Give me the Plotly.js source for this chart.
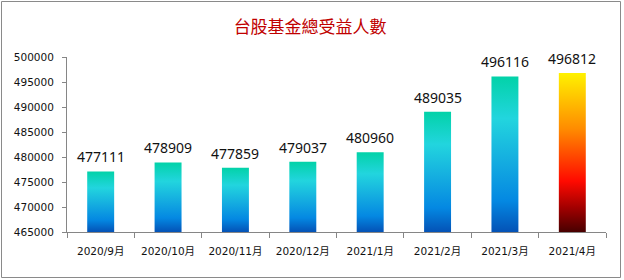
<!DOCTYPE html>
<html><head><meta charset="utf-8">
<script src="https://cdn.plot.ly/plotly-3.0.1.min.js"></script>
<style>body{margin:0;padding:0;background:#fff}#c{width:624px;height:280px}</style>
</head><body><div id="c"></div>
<script>
const categories = ["2020/9月","2020/10月","2020/11月","2020/12月","2021/1月","2021/2月","2021/3月","2021/4月"];
const values = [477111, 478909, 477859, 479037, 480960, 489035, 496116, 496812];
const chartTitle = "台股基金總受益人數";

const L = 67, R = 18, T = 57, B = 48, W = 624, H = 280;
const pw = W - L - R, ph = H - T - B;

const trace = {
  type: 'bar', x: categories, y: values,
  marker: {color: values.map((v,i)=> i === values.length-1 ? '#ff5000' : '#1ab0e0'), line: {width: 0}},
  width: 0.4, hoverinfo: 'none'
};
const labelFont = {family: 'Noto Sans, Open Sans, sans-serif', size: 14, color: '#111'};
const annotations = categories.map((c, i) => ({
  x: c, y: values[i], xref: 'x', yref: 'y', text: String(values[i]), showarrow: false,
  yanchor: 'bottom', yshift: 3, font: labelFont
}));
const tickFont = {family: 'DejaVu Sans, Noto Sans CJK TC, sans-serif', size: 10.5, color: '#111'};
const layout = {
  width: W, height: H, margin: {l: L, r: R, t: T, b: B},
  paper_bgcolor: '#fff', plot_bgcolor: '#fff', showlegend: false,
  title: {text: chartTitle, font: {family: 'Noto Sans CJK TC, sans-serif', size: 17, color: '#C00000'},
          x: 0.497, xanchor: 'center', y: 1 - 27/280, yanchor: 'middle', yref: 'container'},
  xaxis: {type: 'category', showline: true, linecolor: '#868686', linewidth: 1,
          ticks: 'outside', tickson: 'boundaries', ticklen: 5, tickcolor: '#868686',
          tickfont: tickFont, ticklabelstandoff: 9, showgrid: false, zeroline: false, fixedrange: true},
  yaxis: {range: [465000, 500000], dtick: 5000, tick0: 465000, showline: true, linecolor: '#868686',
          ticks: 'outside', ticklen: 4, tickcolor: '#868686', tickfont: tickFont,
          showgrid: false, zeroline: false, tickformat: 'd', ticklabelstandoff: 6, fixedrange: true},
  bargap: 0.6,
  annotations: annotations,
  shapes: [{type: 'rect', xref: 'paper', yref: 'paper',
            x0: (1.5 - L)/pw, x1: (620.5 - L)/pw, y0: (T + ph - 277.5)/ph, y1: (T + ph - 1.5)/ph,
            line: {color: '#8a8a8a', width: 1}, fillcolor: 'rgba(0,0,0,0)', layer: 'below'}]
};
Plotly.newPlot('c', [trace], layout, {staticPlot: true, displayModeBar: false}).then(gd => {
  const svg = gd.querySelector('svg.main-svg');
  const ns = 'http://www.w3.org/2000/svg';
  let defs = svg.querySelector('defs');
  if (!defs) { defs = document.createElementNS(ns, 'defs'); svg.insertBefore(defs, svg.firstChild); }
  const ya = gd._fullLayout.yaxis;
  const yBottom = ya._length;
  function grad(id, yTop, stops) {
    const g = document.createElementNS(ns, 'linearGradient');
    g.setAttribute('id', id); g.setAttribute('gradientUnits', 'userSpaceOnUse');
    g.setAttribute('x1', '0'); g.setAttribute('y1', String(yTop));
    g.setAttribute('x2', '0'); g.setAttribute('y2', String(yBottom));
    stops.forEach(([o, c]) => { const s = document.createElementNS(ns, 'stop');
      s.setAttribute('offset', o); s.setAttribute('stop-color', c); g.appendChild(s); });
    defs.appendChild(g);
  }
  const blue = [[0, '#02D2A8'], [0.27, '#22D5DE'], [0.55, '#14ACE0'], [0.8, '#0488E2'], [1, '#0452B6']];
  const hot = [[0, '#FFF200'], [0.35, '#FF8C00'], [0.68, '#FF0A00'], [0.85, '#A00000'], [1, '#480000']];
  const paths = gd.querySelectorAll('.barlayer .point path');
  paths.forEach((p, i) => {
    const yTop = ya.l2p(values[i]);
    const last = i === paths.length - 1;
    grad('g' + i, yTop, last ? hot : blue);
    p.style.fill = 'url(#g' + i + ')';
  });
});
</script></body></html>
